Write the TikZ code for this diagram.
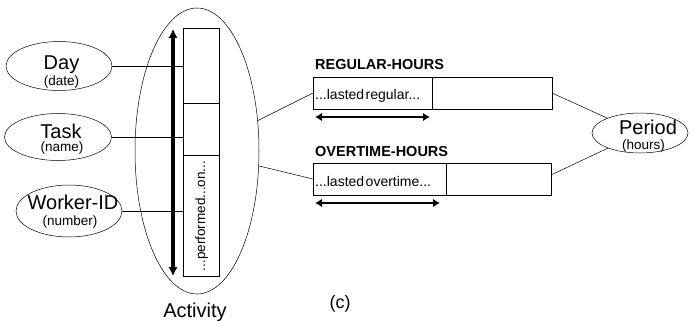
\documentclass[tikz,border=0pt]{standalone}
\usepackage{fontspec}
\setmainfont{Liberation Sans}
\usetikzlibrary{shapes.geometric,arrows.meta}
\begin{document}
\begin{tikzpicture}[x=1pt,y=-1pt,
  ell/.style={draw,ellipse,line width=0.5pt,inner sep=0pt},
  bigt/.style={font=\fontsize{20}{20}\selectfont,inner sep=0pt,anchor=base},
  smallt/.style={font=\fontsize{13.5}{13.5}\selectfont,inner sep=0pt,anchor=base},
  box/.style={draw,line width=0.6pt,inner sep=0pt,outer sep=0pt},
  conn/.style={line width=0.5pt},
  dbl/.style={line width=2.4pt,{Latex[length=7pt,width=8.5pt]}-{Latex[length=7pt,width=8.5pt]}},
  vdbl/.style={line width=3.2pt,{Latex[length=9pt,width=9.5pt]}-{Latex[length=9pt,width=9.5pt]}},
  head/.style={font=\bfseries\fontsize{14.5}{14.5}\selectfont,inner sep=0pt,anchor=base west},
  intext/.style={font=\fontsize{14}{14}\selectfont,inner sep=0pt}
]
\useasboundingbox (0,0) rectangle (694,321);

% big Activity ellipse
\node[ell,minimum width=124pt,minimum height=286pt] (actell) at (197,151) {};
\node[bigt] (actlbl) at (195,317) {Activity};

% vertical rectangle segments
\node[box,minimum width=36pt,minimum height=75pt] (a1) at (201,65.5) {};
\node[box,minimum width=36pt,minimum height=52pt] (a2) at (201,129) {};
\node[box,minimum width=36pt,minimum height=121pt] (a3) at (201,215.5) {};
\node[font=\fontsize{13.5}{13.5}\selectfont,inner sep=0pt,rotate=90,anchor=base] (perf) at (205,216) {...performed...on...};

% vertical arrow
\coordinate (vtop) at (173,29);
\coordinate (vbot) at (173,276);
\draw[vdbl] (vtop) -- (vbot);

% left ellipses
\node[ell,minimum width=106pt,minimum height=49pt] (day) at (59,66) {};
\node[bigt] (dayt) at (61.5,70) {Day};
\node[smallt] (days) at (61.5,85) {(date)};

\node[ell,minimum width=107pt,minimum height=47pt] (task) at (58,137) {};
\node[bigt] (taskt) at (61,138) {Task};
\node[smallt] (tasks) at (62,151.5) {(name)};

\node[ell,minimum width=106pt,minimum height=52pt] (worker) at (69,211) {};
\node[bigt] (workert) at (73,209.5) {Worker-ID};
\node[smallt] (workers) at (70,225) {(number)};

\draw[conn] (day.east) -- (day.east -| a1.west);
\draw[conn] (task.east) -- (task.east -| a2.west);
\draw[conn] (worker.east) -- (worker.east -| a3.west);

% REGULAR-HOURS
\node[head] (reghead) at (315,70) {REGULAR-HOURS};
\node[box,minimum width=119pt,minimum height=32pt] (regA) at (372.5,93) {};
\node[box,minimum width=120pt,minimum height=32pt] (regB) at (492,93) {};
\node[intext,anchor=base west] (regtxt) at (315,99.5) {...lasted\hspace{1.5pt}regular...};
\coordinate (r1) at (315,117);
\coordinate (r2) at (430,117);
\draw[dbl] (r1) -- (r2);

% OVERTIME-HOURS
\node[head] (othead) at (315,156) {OVERTIME-HOURS};
\node[box,minimum width=133pt,minimum height=32pt] (otA) at (379.5,179) {};
\node[box,minimum width=105pt,minimum height=32pt] (otB) at (498.5,179) {};
\node[intext,anchor=base west] (ottxt) at (315,186.5) {...lasted\hspace{1.5pt}overtime...};
\coordinate (o1) at (315,203);
\coordinate (o2) at (440,203);
\draw[dbl] (o1) -- (o2);

% connections to Activity
\draw[conn] (regA.west) -- (actell);
\draw[conn] (otA.west) -- (actell);

% Period
\node[ell,minimum width=96pt,minimum height=40pt] (period) at (640,133) {};
\node[bigt] (periodt) at (648,135) {Period};
\node[smallt] (periods) at (643.5,149) {(hours)};
\draw[conn] (regB.east) -- (period);
\draw[conn] ([yshift=4pt]otB.east) -- (period);

\node[font=\fontsize{18}{18}\selectfont,inner sep=0pt,anchor=base] (c) at (340,308) {(c)};
\end{tikzpicture}
\end{document}
